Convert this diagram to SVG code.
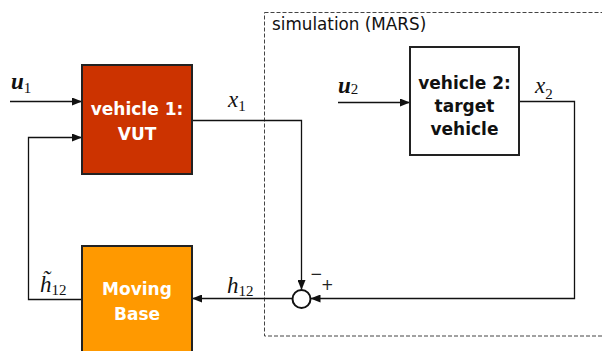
<svg xmlns="http://www.w3.org/2000/svg" width="602" height="351" viewBox="0 0 602 351">
<style>
.ln{fill:none;stroke:#111;stroke-width:1.3}
.box{stroke:#222;stroke-width:2}
.bt{font-family:"DejaVu Sans",Verdana,sans-serif;font-weight:bold;font-size:17px;text-anchor:middle}
.m{font-family:"Liberation Serif","Times New Roman",serif;font-style:italic;font-size:23px;fill:#111}
.mb{font-family:"Liberation Serif","Times New Roman",serif;font-style:italic;font-weight:bold;font-size:23px;fill:#111}
.s{font-family:"Liberation Serif","Times New Roman",serif;font-style:normal;font-weight:normal;font-size:15px}
.sg{font-family:"DejaVu Sans",sans-serif;font-size:15px;fill:#222}
</style>
<defs>
<marker id="ah" viewBox="0 0 10 8" refX="10" refY="4" markerWidth="10" markerHeight="8" markerUnits="userSpaceOnUse" orient="auto">
<path d="M0,0 L10,4 L0,8 Z" fill="#111"/>
</marker>
</defs>
<g id="simulation">
<rect x="264.5" y="12.5" width="400" height="323.5" fill="none" stroke="#444" stroke-width="1" stroke-dasharray="4,2"/>
<text x="272" y="30" font-family="DejaVu Sans,Verdana,sans-serif" font-size="16.8px" fill="#111">simulation (MARS)</text>
</g>
<g id="connectors">
<path class="ln" d="M10,101.5 H82" marker-end="url(#ah)"/>
<path class="ln" d="M82,299.5 H28.5 V137.5 H82" marker-end="url(#ah)"/>
<path class="ln" d="M192,120.5 H301.5 V290" marker-end="url(#ah)"/>
<path class="ln" d="M338,102.5 H410" marker-end="url(#ah)"/>
<path class="ln" d="M519,101.5 H574.5 V298.5 H310.5" marker-end="url(#ah)"/>
<path class="ln" d="M292,298.5 H192" marker-end="url(#ah)"/>
</g>
<g id="vehicle1">
<rect class="box" x="82" y="65" width="110" height="109" fill="#CC3300"/>
<text class="bt" x="137" y="115" fill="#fff">vehicle 1:</text>
<text class="bt" x="137" y="140" fill="#fff">VUT</text>
</g>
<g id="vehicle2">
<rect class="box" x="410" y="47" width="109" height="108" fill="#fff"/>
<text class="bt" x="464.5" y="89" fill="#111">vehicle 2:</text>
<text class="bt" x="464.5" y="112" fill="#111">target</text>
<text class="bt" x="464.5" y="135" fill="#111">vehicle</text>
</g>
<g id="movingbase">
<rect class="box" x="82" y="246" width="110" height="110" fill="#FF9900"/>
<text class="bt" x="137" y="295" fill="#fff">Moving</text>
<text class="bt" x="137" y="320" fill="#fff">Base</text>
</g>
<g id="sum">
<circle cx="301.5" cy="299" r="9" fill="#fff" stroke="#111" stroke-width="2"/>
<text class="sg" x="310" y="279">−</text>
<text class="sg" x="321" y="290">+</text>
</g>
<g id="labels">
<text class="mb" x="11" y="89">u<tspan class="s" dy="4">1</tspan></text>
<text class="m" x="228" y="107">x<tspan class="s" dy="4">1</tspan></text>
<text class="mb" x="338" y="93">u<tspan class="s" dy="1">2</tspan></text>
<text class="m" x="535" y="93">x<tspan class="s" dy="6">2</tspan></text>
<text class="m" x="227" y="293">h<tspan class="s" dy="3">12</tspan></text>
<text class="m" x="40" y="292">h̃<tspan class="s" dy="3">12</tspan></text>
</g>
</svg>
